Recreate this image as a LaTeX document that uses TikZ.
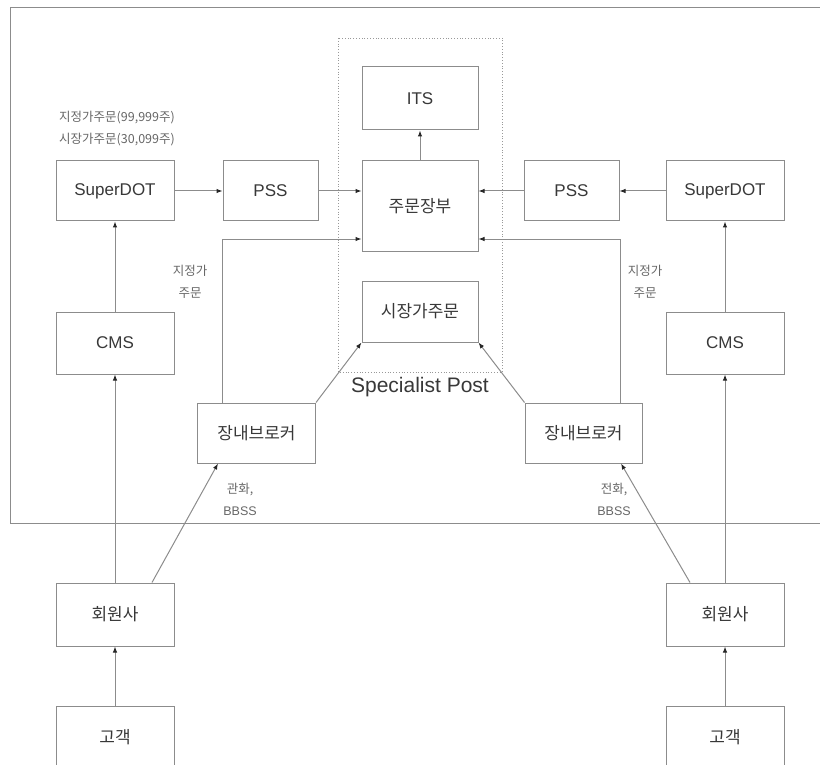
\documentclass[tikz,border=0pt]{standalone}
\usepackage{fontspec}
\setmainfont{Liberation Sans}
\newfontfamily\kr{Noto Sans CJK KR}
\usetikzlibrary{arrows.meta,positioning}

\definecolor{linegray}{gray}{0.55}
\definecolor{textgray}{gray}{0.22}
\definecolor{notegray}{gray}{0.40}

\begin{document}
\begin{tikzpicture}[
    x=1pt, y=-1pt,
    box/.style={draw=linegray, line width=1pt, minimum width=118pt, minimum height=62pt, inner sep=2pt, align=center, text=textgray, font=\fontsize{17}{20}\selectfont},
    pssbox/.style={box, minimum width=95pt, minimum height=60pt},
    corebox/.style={box, minimum width=116pt},
    note/.style={align=center, text=notegray, font=\kr\fontsize{12.5}{22}\selectfont},
    arrow/.style={-{Latex[length=6pt,width=4.5pt,color=black!85]}, draw=linegray, line width=1pt},
    link/.style={draw=linegray, line width=1pt}
  ]
    \useasboundingbox (0,0) rectangle (820,765);

    % frames
    \draw[link] (10,8) rectangle (830,523);
    \draw[draw=black!40, line width=0.8pt, dotted] (338,38) rectangle (502,372);
    \node[text=textgray, font=\fontsize{21}{24}\selectfont] (post) at (420,387) {Specialist Post};

    % centre column
    \node[corebox, minimum height=90pt] (book) at (420,206) {\kr 주문장부};
    \node[corebox, minimum height=63pt, above=30pt of book] (its) {ITS};
    \node[corebox, minimum height=61pt, below=29pt of book] (mkt) {\kr 시장가주문};

    % left side
    \node[box, minimum height=60pt] (sdotL) at (115,191) {SuperDOT};
    \node[pssbox, right=48pt of sdotL] (pssL) {PSS};
    \node[box, below=90pt of sdotL] (cmsL) {CMS};
    \node[box, minimum height=60pt] (brkL) at (256.5,433) {\kr 장내브로커};
    \node[box, minimum height=63pt] (memL) at (115,614.5) {\kr 회원사};
    \node[box, minimum height=63pt, below=59pt of memL] (cusL) {\kr 고객};

    % right side
    \node[box, minimum height=60pt] (sdotR) at (725,191) {SuperDOT};
    \node[pssbox, left=46pt of sdotR] (pssR) {PSS};
    \node[box, below=90pt of sdotR] (cmsR) {CMS};
    \node[box, minimum width=117pt, minimum height=60pt] (brkR) at (583.5,433) {\kr 장내브로커};
    \node[box, minimum height=63pt] (memR) at (725,614.5) {\kr 회원사};
    \node[box, minimum height=63pt, below=59pt of memR] (cusR) {\kr 고객};

    % notes
    \node[note] (qty) at (117,129) {지정가주문(99,999주)\\시장가주문(30,099주)};
    \node[note] (limL) at (190,282) {지정가\\주문};
    \node[note] (limR) at (645,282) {지정가\\주문};
    \node[note] (telL) at (240,499) {관화,\\{\rmfamily BBSS}};
    \node[note] (telR) at (614,499) {전화,\\{\rmfamily BBSS}};

    % connectors
    \draw[arrow] (book) -- (its);
    \draw[arrow] (sdotL) -- (pssL);
    \draw[arrow] (pssL.east) -- (pssL.east -| book.west);
    \draw[arrow] (sdotR) -- (pssR);
    \draw[arrow] (pssR.west) -- (pssR.west -| book.east);
    \draw[arrow] ([xshift=-34.5pt]brkL.north) |- ([yshift=-33pt]book.west);
    \draw[arrow] ([xshift=36.5pt]brkR.north) |- ([yshift=-33pt]book.east);
    \draw[arrow] (brkL.north east) -- (mkt.south west);
    \draw[arrow] (brkR.north west) -- (mkt.south east);
    \draw[arrow] (cmsL) -- (sdotL);
    \draw[arrow] (cmsR) -- (sdotR);
    \draw[arrow] (memL) -- (cmsL);
    \draw[arrow] (memR) -- (cmsR);
    \draw[arrow] (cusL) -- (memL);
    \draw[arrow] (cusR) -- (memR);
    \draw[arrow] ([xshift=37pt]memL.north) -- ([xshift=-38.5pt]brkL.south);
    \draw[arrow] ([xshift=-35pt]memR.north) -- ([xshift=37.5pt]brkR.south);
  \end{tikzpicture}
\end{document}
